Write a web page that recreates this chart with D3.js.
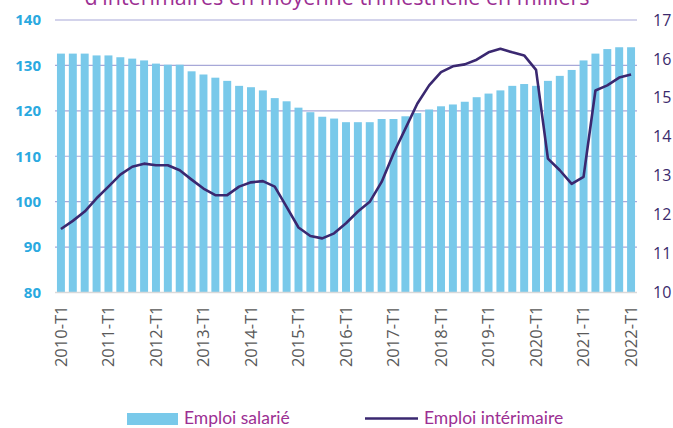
<!DOCTYPE html>
<html>
<head>
<meta charset="utf-8">
<script src="https://cdn.jsdelivr.net/npm/d3@7.9.0/dist/d3.min.js"></script>
<style>
  body { margin: 0; background: #fff; }
  svg { display: block; font-family: "Open Sans", sans-serif; }
</style>
</head>
<body>
<svg id="chart" width="673" height="428"></svg>
<script>
// quarters 2010-T1 .. 2022-T1
const quarters = [];
for (let y = 2010; y <= 2022; y++) {
  for (let q = 1; q <= 4; q++) {
    if (y === 2022 && q > 1) break;
    quarters.push(`${y}-T${q}`);
  }
}

// Emploi salarié (milliers, left axis)
const salarie = [
  132.6, 132.6, 132.6, 132.2, 132.2, 131.8, 131.5, 131.1, 130.4, 130.15,
  130.15, 128.7, 128.0, 127.3, 126.6, 125.5, 125.2, 124.5, 122.8, 122.1,
  120.7, 119.7, 118.7, 118.3, 117.5, 117.5, 117.5, 118.2, 118.2, 118.8,
  119.5, 120.3, 121.0, 121.4, 122.0, 123.0, 123.8, 124.5, 125.5, 125.9,
  125.5, 126.6, 127.7, 129.0, 131.1, 132.6, 133.6, 134.0, 134.0
];

// Emploi intérimaire (milliers, right axis)
const interim = [
  11.63, 11.84, 12.08, 12.42, 12.72, 13.03, 13.23, 13.31, 13.27, 13.27,
  13.14, 12.90, 12.67, 12.50, 12.50, 12.72, 12.83, 12.86, 12.72, 12.20,
  11.67, 11.45, 11.39, 11.52, 11.78, 12.08, 12.33, 12.84, 13.57, 14.21,
  14.85, 15.32, 15.66, 15.81, 15.86, 15.98, 16.17, 16.26, 16.17, 16.09,
  15.72, 13.44, 13.14, 12.79, 12.97, 15.19, 15.32, 15.52, 15.60
];

const leftTicks = [80, 90, 100, 110, 120, 130, 140];
const rightTicks = [10, 11, 12, 13, 14, 15, 16, 17];

const svg = d3.select('#chart');
const mLeft = 55, mRight = 637, mTop = 20, mBottom = 292.5;

let x = d3.scaleBand().domain(quarters).range([mLeft, mRight])
  .paddingInner(0.33).paddingOuter(0.165);
let yL = d3.scaleLinear().domain([80, 140]).range([mBottom, mTop]);
let yR = d3.scaleLinear().domain([10, 17]).range([mBottom, mTop]);

// title (only lower part visible, as in the original crop)
svg.append('text')
  .attr('x', 337).attr('y', 5)
  .attr('text-anchor', 'middle')
  .attr('fill', '#9c2f93')
  .style('font-size', '21.5px')
  .text("d'intérimaires en moyenne trimestrielle en milliers");

// gridlines
svg.append('g')
  .selectAll('line')
  .data(leftTicks.slice(1))
  .join('line')
  .attr('x1', mLeft).attr('x2', mRight)
  .attr('y1', d => yL(d)).attr('y2', d => yL(d))
  .attr('stroke', '#a7a8d8')
  .attr('stroke-width', 1.2);

// bars
svg.append('g')
  .selectAll('rect')
  .data(salarie)
  .join('rect')
  .attr('x', (d, i) => x(quarters[i]))
  .attr('y', d => yL(d))
  .attr('width', x.bandwidth())
  .attr('height', d => yL(80) - yL(d))
  .attr('fill', '#79c9ea');

// baseline
svg.append('line')
  .attr('x1', mLeft).attr('x2', mRight)
  .attr('y1', mBottom).attr('y2', mBottom)
  .attr('stroke', '#d9d9d9').attr('stroke-width', 1.5);

// line
let line = d3.line()
  .x((d, i) => x(quarters[i]) + x.bandwidth() / 2)
  .y(d => yR(d));
svg.append('path')
  .datum(interim)
  .attr('d', line)
  .attr('fill', 'none')
  .attr('stroke', '#3a2870')
  .attr('stroke-width', 2.6)
  .attr('stroke-linejoin', 'round');

// left axis
let axL = svg.append('g')
  .attr('transform', `translate(${mLeft - 14},0)`)
  .call(d3.axisLeft(yL).tickValues(leftTicks).tickFormat(d3.format('d')).tickSize(0).tickPadding(0));
axL.select('.domain').remove();
axL.selectAll('text')
  .attr('fill', '#2aa9e0')
  .style('font-size', '15px')
  .style('font-weight', 'bold')
  .style('font-family', '"Open Sans", sans-serif');

// right axis
let axR = svg.append('g')
  .attr('transform', `translate(${mRight + 16},0)`)
  .call(d3.axisRight(yR).tickValues(rightTicks).tickFormat(d3.format('d')).tickSize(0).tickPadding(0));
axR.select('.domain').remove();
axR.selectAll('text')
  .attr('fill', '#3b2a6c')
  .style('font-size', '16px')
  .style('font-family', '"Open Sans", sans-serif');

// x axis labels, every 4th quarter
let axB = svg.append('g')
  .attr('transform', `translate(0,${mBottom + 13})`)
  .call(d3.axisBottom(x).tickValues(quarters.filter((q, i) => i % 4 === 0)).tickSize(0).tickPadding(0));
axB.select('.domain').remove();
axB.selectAll('text')
  .attr('transform', 'rotate(-90)')
  .attr('text-anchor', 'end')
  .attr('dy', '0.35em')
  .attr('x', 0).attr('y', 0)
  .attr('fill', '#5a5a5a')
  .style('font-size', '16.5px')
  .style('font-family', '"Open Sans", sans-serif');

// legend
let legend = svg.append('g');
legend.append('rect')
  .attr('x', 127).attr('y', 413).attr('width', 51).attr('height', 12)
  .attr('fill', '#79c9ea');
legend.append('text')
  .attr('x', 184).attr('y', 424)
  .attr('fill', '#9c2f93')
  .style('font-size', '17.5px')
  .style('font-family', 'Lato, sans-serif')
  .text('Emploi salarié');
legend.append('line')
  .attr('x1', 365).attr('x2', 418).attr('y1', 418.5).attr('y2', 418.5)
  .attr('stroke', '#3a2870').attr('stroke-width', 2.6);
legend.append('text')
  .attr('x', 424).attr('y', 424)
  .attr('fill', '#9c2f93')
  .style('font-size', '17.5px')
  .style('font-family', 'Lato, sans-serif')
  .text('Emploi intérimaire');
</script>
</body>
</html>
